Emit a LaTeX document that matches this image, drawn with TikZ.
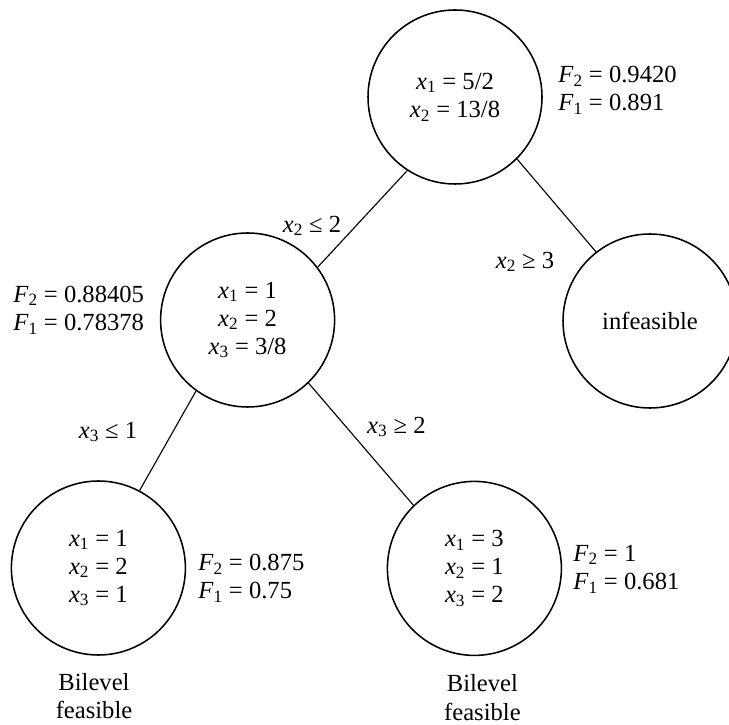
\documentclass[tikz,border=0pt]{standalone}
\usepackage{fontspec}
\setmainfont{Liberation Serif}
\usetikzlibrary{positioning}
\newcommand{\xs}[1]{\textit{x}\textsubscript{#1}}
\newcommand{\Fs}[1]{\textit{F}\textsubscript{#1}}

\begin{document}
\begin{tikzpicture}[
    font=\fontsize{17.5}{20}\selectfont,
    bb/.style={circle, draw, line width=1.1pt, minimum size=4.35cm, inner sep=0pt, align=center},
    val/.style={align=left, anchor=west, inner sep=0pt},
    lbl/.style={inner sep=0pt}]

    \useasboundingbox (0,0) rectangle (18.225,18.1);

    % nodes of the tree
    \node[bb] (root) at (11.375, 15.675) {\xs{1} = 5/2\\\xs{2} = 13/8};
    \node[bb] (mid)  at (6.19, 10.1)     {\xs{1} = 1\\\xs{2} = 2\\\xs{3} = 3/8};
    \node[bb] (infs) at (16.25, 10.075)  {infeasible};
    \node[bb] (bl)   at (2.46, 3.9)      {\xs{1} = 1\\\xs{2} = 2\\\xs{3} = 1};
    \node[bb] (br)   at (11.86, 3.89)    {\xs{1} = 3\\\xs{2} = 1\\\xs{3} = 2};

    % branches
    \draw[line width=0.8pt] (root.237) -- (mid.37);
    \draw[line width=0.8pt] (root.315) -- (infs.128);
    \draw[line width=0.8pt] (mid.234) -- (bl.62);
    \draw[line width=0.8pt] (mid.314) -- (br.134);

    % branching constraints
    \node[lbl] (c1) at (7.8, 12.45)   {\xs{2} ≤ 2};
    \node[lbl] (c2) at (13.125, 11.55) {\xs{2} ≥ 3};
    \node[lbl] (c3) at (2.7, 7.3)     {\xs{3} ≤ 1};
    \node[lbl] (c4) at (9.91, 7.425)  {\xs{3} ≥ 2};

    % objective values
    \node[val] (v1) at (13.95, 15.84) {\Fs{2} = 0.9420\\\Fs{1} = 0.891};
    \node[val] (v2) at (0.325, 10.35) {\Fs{2} = 0.88405\\\Fs{1} = 0.78378};
    \node[val] (v3) at (4.95, 3.64)   {\Fs{2} = 0.875\\\Fs{1} = 0.75};
    \node[val] (v4) at (14.325, 3.875) {\Fs{2} = 1\\\Fs{1} = 0.681};

    % outcomes
    \node[lbl, align=center] (o1) at (2.35, 0.69)  {Bilevel\\feasible};
    \node[lbl, align=center] (o2) at (12.06, 0.66) {Bilevel\\feasible};

\end{tikzpicture}
\end{document}
